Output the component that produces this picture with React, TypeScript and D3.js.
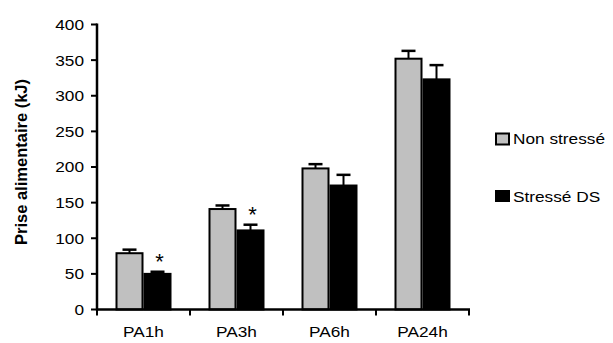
import React from "react";
import * as d3 from "d3";

const categories = ["PA1h", "PA3h", "PA6h", "PA24h"];
const seriesNames = ["Non stressé", "Stressé DS"];
const nonStresse = [79, 141, 198, 352];
const nonStresseErr = [5, 5, 6, 11];
const stresseDS = [50, 111, 174, 323];
const stresseDSErr = [3, 8, 15, 20];
const sigStress = [true, true, false, false];
const yTicks = [0, 50, 100, 150, 200, 250, 300, 350, 400];

const W = 613;
const H = 343;
const FONT = "Arial, 'Liberation Sans', sans-serif";
const SX = 1.15;

export default function App() {
  const x = d3.scaleBand<string>().domain(categories).range([97, 469]).padding(0);
  const inner = d3
    .scaleBand<string>()
    .domain(seriesNames)
    .range([x.bandwidth() / 2 - 28, x.bandwidth() / 2 + 28])
    .padding(0);
  const y = d3.scaleLinear().domain([0, 400]).range([309.5, 24.5]);
  const series = [
    { name: seriesNames[0], vals: nonStresse, err: nonStresseErr, fill: "#c0c0c0" },
    { name: seriesNames[1], vals: stresseDS, err: stresseDSErr, fill: "#000000" },
  ];
  const sx = (cx: number) => `translate(${cx},0) scale(${SX},1) translate(${-cx},0)`;

  return (
    <svg width={W} height={H} style={{ position: "absolute", left: 0, top: 0 }}>
      <rect width={W} height={H} fill="#fff" />
      {categories.map((c, i) =>
        series.map((s) => {
          const bx = (x(c) as number) + (inner(s.name) as number);
          const bw = inner.bandwidth();
          const top = y(s.vals[i]);
          const cap = y(s.vals[i] + s.err[i]);
          const cx = bx + bw / 2;
          return (
            <g key={c + s.name}>
              <line x1={cx} x2={cx} y1={top} y2={cap} stroke="#000" strokeWidth={2} />
              <line x1={cx - 7} x2={cx + 7} y1={cap} y2={cap} stroke="#000" strokeWidth={2.5} />
              <rect
                x={bx + 1}
                y={top}
                width={bw - 2}
                height={y(0) - top}
                fill={s.fill}
                stroke="#000"
                strokeWidth={2}
              />
            </g>
          );
        })
      )}
      {categories.map((c, i) => {
        if (!sigStress[i]) return null;
        const bx = (x(c) as number) + (inner(seriesNames[1]) as number) + inner.bandwidth() / 2;
        const cap = y(stresseDS[i] + stresseDSErr[i]);
        return (
          <text key={"s" + c} x={bx + 2} y={cap - 3} fontFamily={FONT} fontSize={22} textAnchor="middle">
            *
          </text>
        );
      })}
      <line x1={97} x2={97} y1={y(400) - 1} y2={y(0) + 1} stroke="#000" strokeWidth={2.5} />
      {yTicks.map((t) => (
        <g key={t}>
          <line x1={91} x2={97} y1={y(t)} y2={y(t)} stroke="#000" strokeWidth={2} />
          <text x={84} y={y(t)} dy="0.36em" fontFamily={FONT} fontSize={15} textAnchor="end" transform={sx(84)}>
            {t}
          </text>
        </g>
      ))}
      <line x1={96} x2={470} y1={y(0)} y2={y(0)} stroke="#000" strokeWidth={2.5} />
      {[...categories.map((c) => x(c) as number), 469].map((v, k) => (
        <line key={k} x1={v} x2={v} y1={y(0)} y2={y(0) + 6} stroke="#000" strokeWidth={2} />
      ))}
      {categories.map((c) => {
        const cx = (x(c) as number) + x.bandwidth() / 2;
        return (
          <text key={c} x={cx} y={337} fontFamily={FONT} fontSize={15} textAnchor="middle" transform={sx(cx)}>
            {c}
          </text>
        );
      })}
      <text
        transform="translate(27,162) rotate(-90)"
        fontFamily={FONT}
        fontSize={16.5}
        fontWeight="bold"
        textAnchor="middle"
      >
        Prise alimentaire (kJ)
      </text>
      <rect x={496} y={133.5} width={13} height={11} fill="#c0c0c0" stroke="#000" strokeWidth={2} />
      <text x={513} y={144} fontFamily={FONT} fontSize={15} transform={sx(513)}>
        {seriesNames[0]}
      </text>
      <rect x={495} y={190} width={15} height={12} fill="#000" />
      <text x={513} y={202} fontFamily={FONT} fontSize={15} transform={sx(513)}>
        {seriesNames[1]}
      </text>
    </svg>
  );
}
